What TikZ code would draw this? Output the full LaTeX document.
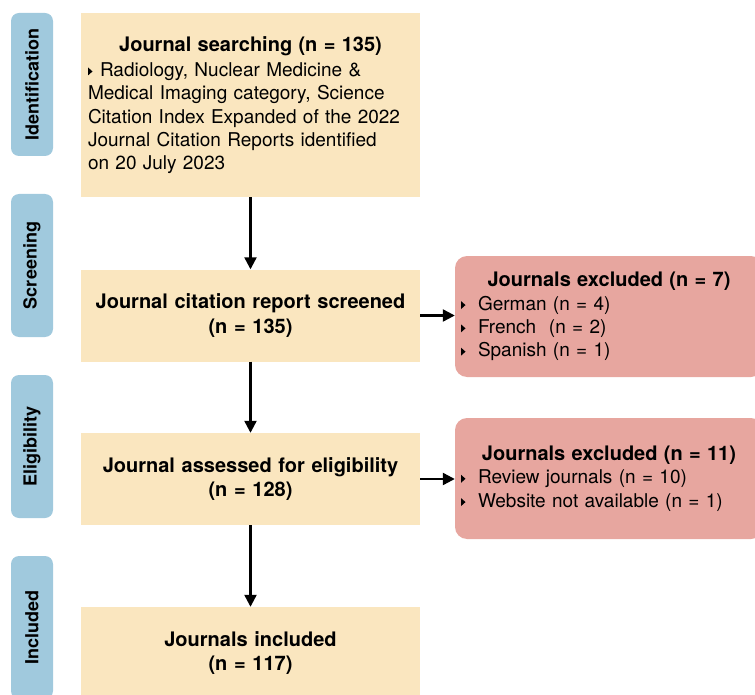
\documentclass[tikz,border=0pt]{standalone}
\usepackage{fontspec}
\setmainfont{TeX Gyre Heros}
\usetikzlibrary{arrows.meta}

\definecolor{stageyellow}{HTML}{FAE6BF}
\definecolor{exclred}{HTML}{E7A69F}
\definecolor{phaseblue}{HTML}{A0C9DD}

\newcommand{\tri}{\tikz[baseline=-1pt, sharp corners]\fill[black] (0pt,0pt) -- (0pt,8pt) -- (4.5pt,4pt) -- cycle;}
\newcommand{\headline}[1]{{\centering\bfseries\fontsize{20}{24.5}\selectfont #1\par}}

\tikzset{
    phase/.style={fill=phaseblue, rounded corners=8pt, rotate=90, minimum width=143pt, minimum height=42pt, inner sep=0pt, font=\bfseries\fontsize{18}{22}\selectfont},
    stage/.style={fill=stageyellow, minimum width=339pt, minimum height=92pt, inner xsep=7pt, text width=325pt, align=center, font=\bfseries\fontsize{20}{24.5}\selectfont},
    excl/.style={fill=exclred, rounded corners=12pt, minimum width=308pt, minimum height=121pt, inner xsep=6pt, text width=296pt, align=left, font=\fontsize{19}{23.3}\selectfont},
    arr/.style={-{Triangle[length=12pt,width=12pt]}, line width=2.3pt}
}

\begin{document}
\begin{tikzpicture}[x=1pt, y=-1pt]
        \useasboundingbox (0,0) rectangle (755,695);
        \clip (0,0) rectangle (755,695);

        \node[phase] (ident) at (32,84.5) {Identification};
        \node[phase] (screen) at (32,265.5) {Screening};
        \node[phase] (elig) at (32,446.5) {Eligibility};
        \node[phase] (incl) at (32,627.5) {Included};

        \node[stage, minimum height=184pt, align=left, font=\fontsize{19}{23.3}\selectfont] (search) at (250.5,105) {\headline{Journal searching (n = 135)}\vspace{2pt}\hangindent=12pt\hangafter=1\makebox[12pt][l]{\tri}Radiology, Nuclear Medicine \&\\Medical Imaging category, Science\\Citation Index Expanded of the 2022\\Journal Citation Reports identified\\on 20 July 2023};
        \node[stage] (screened) at (250.5,315.5) {Journal citation report screened\\(n = 135)};
        \node[stage] (assessed) at (250.5,479) {Journal assessed for eligibility\\(n = 128)};
        \node[stage] (included) at (250.5,653) {Journals included\\(n = 117)};

        \node[excl] (exlang) at (609,316.5) {\headline{Journals excluded (n = 7)}\makebox[17pt][l]{\tri}German (n = 4)\\\makebox[17pt][l]{\tri}French\ \ (n = 2)\\\makebox[17pt][l]{\tri}Spanish (n = 1)};
        \node[excl] (exreview) at (609,478.5) {\headline{Journals excluded (n = 11)}\makebox[17pt][l]{\tri}Review journals (n = 10)\\\makebox[17pt][l]{\tri}Website not available (n = 1)};

        \draw[arr] (search) -- (screened);
        \draw[arr] (screened) -- (assessed);
        \draw[arr] (assessed) -- (included);
        \draw[arr] (screened) -- (screened -| exlang.west);
        \draw[arr] (assessed) -- (assessed -| exreview.west);
    \end{tikzpicture}
\end{document}
